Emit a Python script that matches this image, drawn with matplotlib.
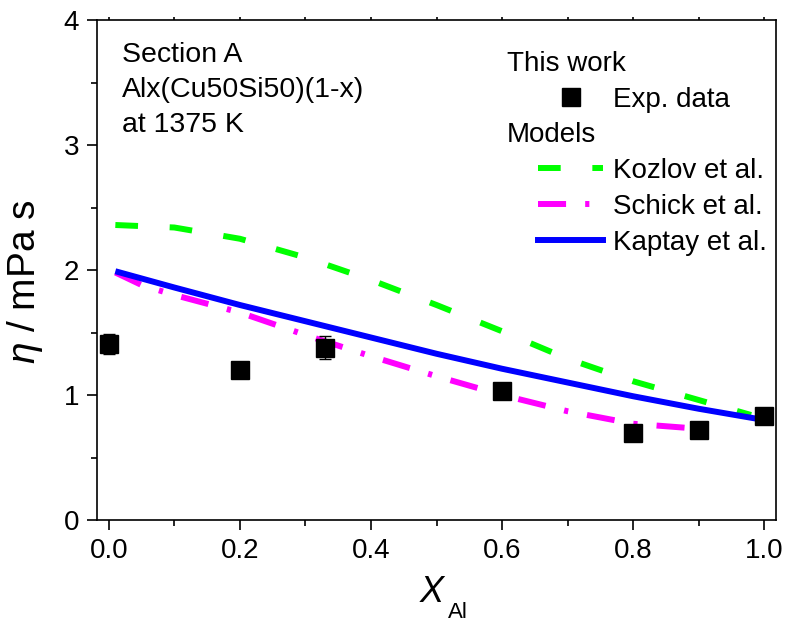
import matplotlib
matplotlib.use("Agg")
import matplotlib.pyplot as plt
from matplotlib.lines import Line2D
from matplotlib.ticker import MultipleLocator

plt.rcParams['font.family'] = ['Liberation Sans', 'DejaVu Sans']
plt.rcParams['mathtext.fontset'] = 'custom'
plt.rcParams['mathtext.rm'] = 'Liberation Sans'
plt.rcParams['mathtext.it'] = 'Liberation Sans:italic'

# Measured viscosity (this work)
x_exp = [0.0, 0.2, 0.33, 0.6, 0.8, 0.9, 1.0]
eta_exp = [1.41, 1.20, 1.38, 1.03, 0.70, 0.72, 0.83]
eta_err = [0.08, 0.04, 0.09, 0.03, 0.03, 0.03, 0.03]

# Model curves
x_kozlov = [0.01, 0.1, 0.2, 0.3, 0.4, 0.5, 0.6, 0.7, 0.8, 0.9, 0.98]
eta_kozlov = [2.36, 2.34, 2.25, 2.10, 1.92, 1.72, 1.51, 1.29, 1.11, 0.96, 0.84]

x_schick = [0.01, 0.05, 0.1, 0.2, 0.3, 0.4, 0.5, 0.6, 0.7, 0.8, 0.9, 0.94]
eta_schick = [1.98, 1.88, 1.80, 1.66, 1.48, 1.31, 1.15, 1.00, 0.87, 0.77, 0.73, 0.74]

x_kaptay = [0.01, 0.1, 0.2, 0.3, 0.4, 0.5, 0.6, 0.7, 0.8, 0.9, 1.0]
eta_kaptay = [1.99, 1.86, 1.72, 1.59, 1.46, 1.33, 1.21, 1.10, 0.99, 0.89, 0.80]

x_ticks = [0.0, 0.2, 0.4, 0.6, 0.8, 1.0]
y_ticks = [0, 1, 2, 3, 4]

W, H = 785, 624
fig = plt.figure(figsize=(W / 100, H / 100), dpi=100)
ax = fig.add_axes([97 / W, 1 - 520 / H, (776 - 97) / W, (520 - 20) / H])

lw = 4.3
kozlov_dash = (3.8, 5.3)
schick_dash = (4.7, 3.2, 0.7, 3.2)
ax.plot(x_kozlov, eta_kozlov, color='#00FF00', lw=lw, dashes=kozlov_dash,
        dash_capstyle='butt', zorder=2)
ax.plot(x_schick, eta_schick, color='#FF00FF', lw=lw, dashes=schick_dash,
        dash_capstyle='butt', zorder=2)
ax.plot(x_kaptay, eta_kaptay, color='#0000FF', lw=lw, solid_capstyle='butt',
        solid_joinstyle='round', zorder=3)
ax.errorbar(x_exp, eta_exp, yerr=eta_err, fmt='s', color='black', ms=13,
            ecolor='black', elinewidth=1.0, capsize=4, capthick=1.0, zorder=4)

ax.set_xlim(-0.018, 1.018)
ax.set_ylim(0, 4)
ax.set_xticks(x_ticks)
ax.set_xticklabels([f'{v:.1f}' for v in x_ticks])
ax.set_yticks(y_ticks)
ax.xaxis.set_minor_locator(MultipleLocator(0.1))
ax.yaxis.set_minor_locator(MultipleLocator(0.5))
ax.tick_params(which='major', direction='out', length=7, width=1.2, labelsize=20, pad=6)
ax.tick_params(which='minor', direction='out', length=4, width=1.2)
ax.tick_params(which='both', top=True, labeltop=False)
ax.tick_params(axis='x', which='major', top=True, length=7)
for s in ax.spines.values():
    s.set_linewidth(1.2)
# very short marks along the top edge
for t in ax.xaxis.get_major_ticks() + ax.xaxis.get_minor_ticks():
    t.tick2line.set_markersize(2)

ax.set_ylabel(r'$\eta$ / mPa s', fontsize=28)
ax.yaxis.set_label_coords(-0.076, 0.476)

# x-axis title: italic X with a lowered subscript
fig.text(420, H - 602, 'X', fontsize=26, style='italic', ha='left', va='baseline',
         transform=None)
fig.text(448, H - 618, 'Al', fontsize=16, ha='left', va='baseline', transform=None)

# header block in the upper left
for txt, base in zip(['Section A', 'Alx(Cu50Si50)(1-x)', 'at 1375 K'], [62, 97, 132]):
    fig.text(122, H - base, txt, fontsize=20.5, ha='left', va='baseline', transform=None)

blank = Line2D([], [], linestyle='none')
handles = [blank,
           Line2D([], [], linestyle='none', marker='s', color='black', ms=13),
           blank,
           Line2D([], [], color='#00FF00', lw=lw, dashes=kozlov_dash),
           Line2D([], [], color='#FF00FF', lw=lw, dashes=schick_dash),
           Line2D([], [], color='#0000FF', lw=lw)]
labels = ['This work', 'Exp. data', 'Models', 'Kozlov et al.', 'Schick et al.', 'Kaptay et al.']
leg = ax.legend(handles, labels, loc='upper left', bbox_to_anchor=(538 / W, 1 - 51 / H),
                bbox_transform=fig.transFigure, frameon=False, fontsize=20,
                handlelength=2.34, handletextpad=0.36, labelspacing=0.35,
                borderpad=0, borderaxespad=0)

# move the two group headers to the left of the handle column
fig.canvas.draw()
shift = 106
for i in (0, 2):
    t = leg.get_texts()[i]
    bb = t.get_window_extent()
    t.set_visible(False)
    fig.text(bb.x0 - shift, bb.y0, t.get_text(), fontsize=20, ha='left', va='bottom',
             transform=None)

fig.savefig('out.png', dpi=100)
